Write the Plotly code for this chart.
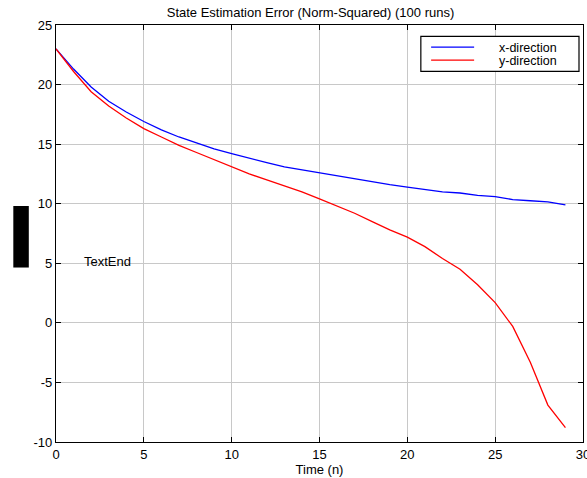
import plotly.graph_objects as go

n = list(range(30))
x_dir = [23.0, 21.3, 19.8, 18.6, 17.7, 16.9, 16.2, 15.6, 15.1, 14.6,
         14.2, 13.8, 13.45, 13.1, 12.85, 12.55, 12.3, 12.05, 11.8, 11.6,
         11.4, 11.2, 11.0, 10.9, 10.7, 10.6, 10.35, 10.25, 10.15, 9.9]
y_dir = [23.0, 21.1, 19.4, 18.2, 17.2, 16.3, 15.6, 14.9, 14.3, 13.7,
         13.1, 12.5, 12.0, 11.5, 11.0, 10.4, 9.8, 9.2, 8.5, 7.8,
         7.2, 6.4, 5.4, 4.5, 3.2, 1.7, -0.3, -3.3, -6.9, -8.8]
series_names = ["x-direction", "y-direction"]
series_colors = ["#0000ff", "#ff0000"]
x_ticks = [0, 5, 10, 15, 20, 25, 30]
y_ticks = [-10, -5, 0, 5, 10, 15, 20, 25]

FONT = "Liberation Sans, Arial, Helvetica, sans-serif"
FS = 13

fig = go.Figure()
for vals, name, col in zip([x_dir, y_dir], series_names, series_colors):
    fig.add_trace(go.Scatter(x=n, y=vals, mode="lines", name=name,
                             line=dict(color=col, width=1.3)))

axis_common = dict(showline=True, linecolor="black", linewidth=1.2, mirror="ticks",
                   ticks="inside", ticklen=5, tickcolor="black", tickwidth=1,
                   showgrid=True, gridcolor="#c8c8c8", gridwidth=1, zeroline=False,
                   ticklabeloverflow="allow", automargin=False,
                   tickfont=dict(family=FONT, size=FS, color="black"))

fig.update_xaxes(range=[0, 30], tickvals=x_ticks, ticktext=[str(v) for v in x_ticks],
                 title=dict(text="Time (n)", font=dict(family=FONT, size=FS, color="black"), standoff=3),
                 **axis_common)
fig.update_yaxes(range=[-10, 25], tickvals=y_ticks, ticktext=[str(v) for v in y_ticks],
                 **axis_common)

fig.add_annotation(x=1.5, y=5.15, text="TextEnd", showarrow=False, xanchor="left",
                   yanchor="middle", font=dict(family=FONT, size=FS, color="black"))

# black block left of the y axis
fig.add_shape(type="rect", xref="paper", yref="paper", x0=-0.081, x1=-0.0516,
              y0=0.4184, y1=0.566, fillcolor="black", line=dict(width=0))

# legend box drawn manually
fig.add_shape(type="rect", xref="paper", yref="paper", x0=0.6923, x1=0.9924,
              y0=0.8886, y1=0.9725, fillcolor="white", line=dict(color="black", width=1.2))
for yy, ty, name, col in zip([0.9468, 0.9157], [0.9455, 0.9145], series_names, series_colors):
    fig.add_shape(type="line", xref="paper", yref="paper", x0=0.7118, x1=0.7934,
                  y0=yy, y1=yy, line=dict(color=col, width=1.3))
    fig.add_annotation(xref="paper", yref="paper", x=0.8394, y=ty, text=name, showarrow=False,
                       xanchor="left", yanchor="middle", borderpad=0,
                       font=dict(family=FONT, size=12.5, color="black"))

fig.update_layout(
    width=587, height=478,
    margin=dict(l=55.5, r=4, t=24.5, b=36),
    paper_bgcolor="white", plot_bgcolor="white",
    title=dict(text="State Estimation Error (Norm-Squared) (100 runs)", x=0.529, xanchor="center",
               y=0.975, yanchor="middle", font=dict(family=FONT, size=FS, color="black")),
    showlegend=False,
)

fig.write_html("out.html")
